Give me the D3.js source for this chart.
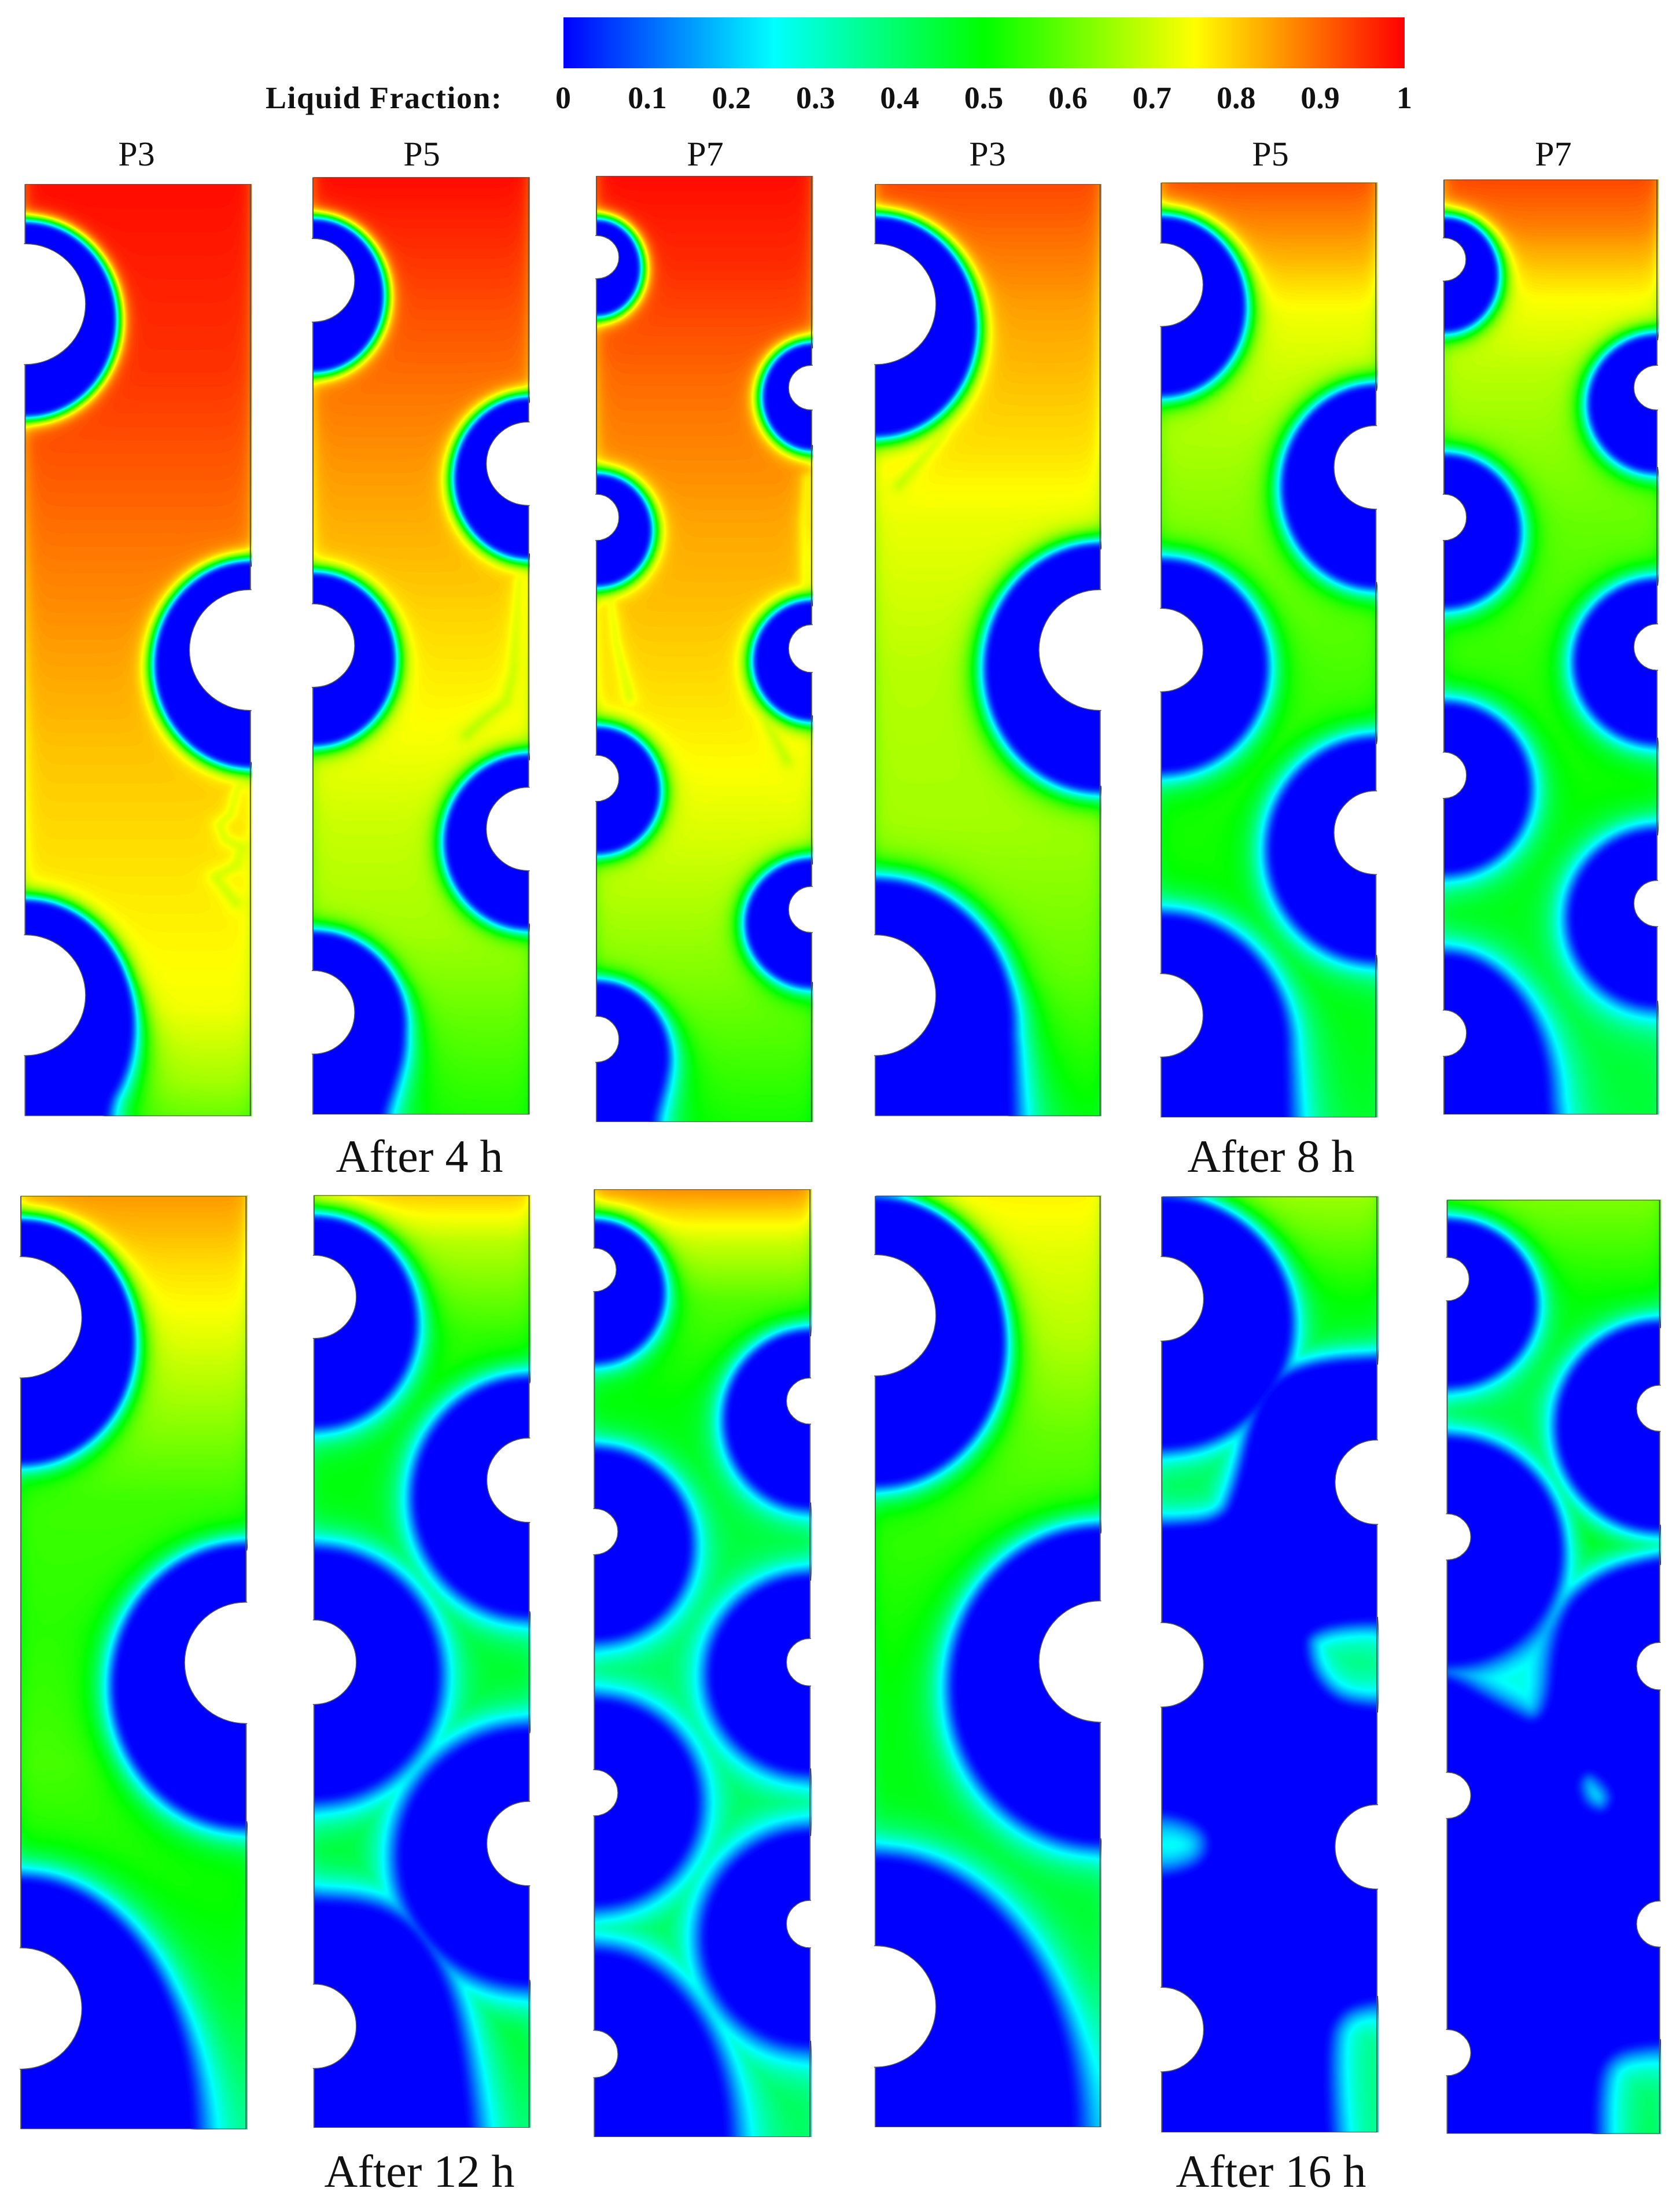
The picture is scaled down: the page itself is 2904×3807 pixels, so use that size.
<!DOCTYPE html>
<html>
<head>
<meta charset="utf-8">
<script src="https://cdnjs.cloudflare.com/ajax/libs/d3/7.8.5/d3.min.js"></script>
<style>
	html, body { margin: 0; background: #fff; }
	text { font-family: "Liberation Serif", serif; fill: #111; text-rendering: geometricPrecision; }
</style>
</head>
<body>
<svg id="chart" width="2904" height="3807"></svg>
<script>
// colour bar
const colorStops = [0, 0.25, 0.5, 0.75, 1]
const colorNames = ["#0000ff", "#00ffff", "#00ff00", "#ffff00", "#ff0000"]
const tickValues = [0, 0.1, 0.2, 0.3, 0.4, 0.5, 0.6, 0.7, 0.8, 0.9, 1]
const barTitle = "Liquid Fraction:"

// panels, in reading order. All geometry below is read off the picture, in
// crop units: one crop per quarter of the figure, see readX / readY
const panelNames = ["P3", "P5", "P7", "P3", "P5", "P7", "P3", "P5", "P7", "P3", "P5", "P7"]
const groupNames = ["After 4 h", "After 8 h", "After 12 h", "After 16 h"]

// [left, right, top, bottom]
const frames = [
	[47, 468, 247, 1497], [585, 988, 238, 1495], [1115, 1517, 236, 1505],
	[68, 487, 247, 1497], [601, 1001, 245, 1499], [1128, 1525, 241, 1495],
	[39, 460, 41, 1456], [587, 989, 40, 1454], [1111, 1514, 31, 1468],
	[68, 487, 41, 1453], [602, 1003, 42, 1461], [1134, 1530, 47, 1463]
]

// heat transfer tubes, [cx, cy, rx, ry]
const tubes = [
	[[47, 408, 113, 81], [468, 872, 114, 81], [47, 1335, 113, 81]],
	[[585, 376, 78, 56], [988, 622, 79, 56], [585, 866, 78, 56], [988, 1112, 79, 56], [585, 1358, 78, 56]],
	[[1115, 345, 42, 29], [1517, 520, 43, 30], [1115, 694, 42, 31], [1517, 870, 43, 32], [1115, 1044, 42, 31], [1517, 1220, 43, 31], [1115, 1394, 42, 31]],
	[[68, 408, 113, 81], [487, 872, 114, 81], [68, 1335, 113, 81]],
	[[601, 382, 78, 56], [1001, 627, 78, 56], [601, 872, 78, 56], [1001, 1117, 78, 56], [601, 1362, 78, 56]],
	[[1128, 348, 41, 29], [1525, 520, 43, 30], [1128, 694, 42, 31], [1525, 868, 43, 31], [1128, 1040, 42, 31], [1525, 1212, 43, 31], [1128, 1386, 42, 31]],
	[[39, 225, 114, 92], [460, 749, 115, 92], [39, 1273, 114, 92]],
	[[587, 194, 79, 63], [989, 472, 79, 64], [587, 748, 79, 64], [989, 1023, 79, 64], [587, 1300, 79, 64]],
	[[1111, 153, 41, 33], [1514, 352, 44, 35], [1111, 550, 44, 35], [1514, 748, 44, 36], [1111, 946, 44, 35], [1514, 1145, 44, 36], [1111, 1342, 44, 36]],
	[[68, 222, 113, 92], [487, 747, 114, 92], [68, 1270, 113, 92]],
	[[602, 197, 78, 64], [1003, 475, 78, 64], [602, 752, 78, 64], [1003, 1028, 78, 64], [602, 1305, 78, 64]],
	[[1134, 167, 41, 33], [1530, 363, 43, 35], [1134, 558, 44, 35], [1530, 754, 43, 36], [1134, 950, 44, 35], [1530, 1145, 43, 35], [1134, 1340, 44, 35]]
]

// still solid PCM around each tube, [cx, cy, rx, ry]
const solidLobes = [
	[[47, 427, 165, 128], [468, 890, 176, 135], [47, 1370, 195, 160]],
	[[585, 395, 127, 100], [988, 640, 136, 105], [585, 883, 147, 112], [988, 1128, 153, 113], [585, 1370, 163, 117]],
	[[1115, 358, 77, 62], [1517, 531, 89, 69], [1115, 710, 97, 72], [1517, 885, 105, 77], [1115, 1059, 111, 81], [1517, 1237, 119, 82], [1115, 1415, 125, 95]],
	[[68, 436, 182, 144], [487, 894, 209, 161], [68, 1370, 245, 185]],
	[[601, 409, 149, 116], [1001, 651, 169, 131], [601, 892, 187, 137], [1001, 1138, 193, 143], [601, 1400, 224, 168]],
	[[1128, 367, 94, 73], [1525, 540, 123, 88], [1128, 711, 132, 97], [1525, 886, 147, 104], [1128, 1056, 150, 108], [1525, 1230, 157, 112], [1128, 1470, 184, 185]],
	[[39, 260, 204, 180], [460, 782, 242, 207], [39, 1456, 313, 374]],
	[[587, 230, 181, 153], [989, 496, 209, 174], [587, 765, 223, 183], [989, 1041, 237, 187]],
	[[1111, 184, 121, 102], [1514, 378, 152, 128], [1111, 568, 171, 138], [1514, 765, 182, 143], [1111, 959, 184, 149], [1514, 1165, 192, 155], [1111, 1468, 239, 276]],
	[[68, 260, 232, 212], [487, 782, 269, 232], [68, 1453, 362, 403]],
	[[602, 232, 232, 184]],
	[[1134, 202, 156, 120], [1530, 389, 185, 151], [1134, 578, 204, 166]]
]

// solid that is not round: the tails under the lowest tube and the merged mass
const solidShapes = [
	[[[47, 1330], [232, 1330], [242, 1370], [238, 1400], [225, 1430], [200, 1470], [190, 1497], [188, 1600], [0, 1600], [0, 1330]]],
	[[[585, 1340], [738, 1340], [748, 1370], [745, 1410], [730, 1445], [712, 1480], [706, 1495], [704, 1600], [500, 1600], [500, 1340]]],
	[[[1115, 1390], [1231, 1390], [1240, 1415], [1235, 1445], [1222, 1475], [1210, 1505], [1206, 1600], [1040, 1600], [1040, 1390]]],
	[[[68, 1300], [292, 1300], [313, 1370], [313, 1450], [312, 1600], [0, 1600], [0, 1300]]],
	[[[601, 1340], [805, 1340], [825, 1400], [826, 1450], [828, 1600], [500, 1600], [500, 1340]]],
	[[[1128, 1410], [1298, 1410], [1312, 1470], [1315, 1500], [1316, 1600], [1040, 1600], [1040, 1410]]],
	[],
	[[[587, 1115], [680, 1120], [740, 1140], [785, 1175], [825, 1240], [850, 1320], [870, 1454], [875, 1600], [500, 1600], [500, 1115]]],
	[], [],
	[[[1100, 293], [1003, 293], [900, 298], [820, 320], [780, 370], [750, 480], [720, 540], [602, 548], [500, 548], [500, 1600], [1100, 1600]]],
	[[[1630, 595], [1530, 595], [1420, 620], [1345, 680], [1325, 860], [1210, 812], [1134, 775], [1040, 766], [1040, 1600], [1630, 1600]]]
]

// melted pockets left inside the solid
const pockets = [
	[], [], [], [], [], [], [], [], [], [],
	[
		[[862, 682], [1100, 676], [1100, 826], [1003, 824], [915, 812], [862, 755]],
		[[500, 966], [602, 966], [678, 986], [702, 1022], [678, 1062], [602, 1080], [500, 1080]],
		[[895, 1330], [925, 1268], [1003, 1250], [1100, 1250], [1100, 1600], [915, 1600]]
	],
	[
		[[1365, 925], [1400, 900], [1455, 945], [1430, 985], [1380, 970]],
		[[1395, 1400], [1425, 1330], [1530, 1316], [1630, 1316], [1630, 1600], [1405, 1600]]
	]
]

// thin cooler streaks left by the melt plumes
const wisps = [
	[[[468, 1035], [440, 1060], [430, 1090], [408, 1105], [420, 1125], [450, 1135], [440, 1160], [400, 1175], [440, 1210]]],
	[[[968, 775], [966, 800], [962, 850], [958, 900], [945, 940], [900, 965], [870, 985]]],
	[[[1505, 640], [1500, 700], [1505, 790]], [[1140, 800], [1150, 860], [1175, 935]], [[1425, 960], [1470, 1020]]],
	[[[110, 650], [135, 630], [190, 585], [230, 540]]],
	[], [], [], [], [], [], [], []
]

// liquid fraction far from the solid, [y, value]
const profiles = [
	[[247, .99], [500, .95], [750, .88], [1000, .81], [1250, .76], [1350, .74], [1450, .66], [1497, .60]],
	[[238, .99], [400, .93], [600, .86], [800, .80], [1000, .74], [1100, .70], [1250, .66], [1400, .58], [1495, .53]],
	[[236, .99], [350, .96], [500, .90], [700, .84], [900, .79], [1030, .75], [1150, .70], [1300, .63], [1505, .52]],
	[[247, .93], [400, .85], [600, .78], [700, .73], [900, .68], [1100, .66], [1300, .60], [1497, .50]],
	[[245, .92], [330, .84], [420, .74], [500, .70], [700, .63], [900, .57], [1100, .52], [1300, .50], [1499, .47]],
	[[241, .93], [300, .88], [400, .75], [500, .68], [700, .60], [900, .55], [1100, .50], [1300, .47], [1495, .45]],
	[[41, .85], [150, .78], [210, .75], [350, .66], [500, .56], [700, .54], [900, .57], [1000, .54], [1200, .48], [1456, .42]],
	[[40, .80], [70, .75], [110, .68], [250, .55], [400, .50], [700, .47], [900, .45], [1100, .47], [1300, .48], [1454, .44]],
	[[31, .86], [70, .78], [110, .70], [200, .58], [350, .50], [500, .46], [700, .42], [900, .42], [1100, .44], [1300, .46], [1468, .42]],
	[[41, .76], [130, .72], [250, .68], [400, .60], [550, .55], [800, .50], [1000, .48], [1200, .45], [1453, .38]],
	[[42, .65], [100, .60], [200, .50], [290, .46], [500, .42], [750, .38], [1020, .30], [1250, .38], [1461, .42]],
	[[47, .62], [100, .58], [200, .50], [350, .44], [560, .50], [640, .40], [700, .28], [900, .34], [1250, .38], [1463, .44]]
]

// thickness of the melting front at the top, low down and at the bottom of a panel
const fronts = [
	[7, 10, 22], [7, 11, 22], [7, 11, 22],
	[8, 18, 30], [10, 20, 30], [9, 20, 30],
	[10, 24, 34], [14, 28, 34], [12, 26, 34],
	[13, 28, 36], [16, 22, 30], [14, 22, 30]
]

const readX = [d3.scaleLinear([0, 1568], [0, 1450]), d3.scaleLinear([0, 1568], [1450, 2904])]
const readY = [d3.scaleLinear([0, 1568], [0, 2020]), d3.scaleLinear([0, 1568], [2020, 3807])]

const color = d3.scaleLinear().domain(colorStops).range(colorNames).clamp(true)
const levelStep = 0.005
const levels = d3.range(levelStep, 1, levelStep)
const cell = 3

const svg = d3.select("#chart")

// signed distances, negative inside
const ellipseDistance = (px, py, e) => {
	const dx = px - e.cx, dy = py - e.cy
	const k0 = Math.hypot(dx / e.rx, dy / e.ry)
	const k1 = Math.hypot(dx / (e.rx * e.rx), dy / (e.ry * e.ry))
	return k1 === 0 ? -Math.min(e.rx, e.ry) : k0 * (k0 - 1) / k1
}
const segmentDistance = (px, py, a, b) => {
	const vx = b[0] - a[0], vy = b[1] - a[1]
	const t = Math.max(0, Math.min(1, ((px - a[0]) * vx + (py - a[1]) * vy) / (vx * vx + vy * vy)))
	return Math.hypot(px - a[0] - t * vx, py - a[1] - t * vy)
}
const lineDistance = (px, py, pts) => {
	let best = Infinity
	for (let i = 1; i < pts.length; i++) best = Math.min(best, segmentDistance(px, py, pts[i - 1], pts[i]))
	return best
}
const shapeDistance = (px, py, pts) => {
	const d = lineDistance(px, py, pts.concat([pts[0]]))
	return d3.polygonContains(pts, [px, py]) ? -d : d
}
// corner cutting, so the read outlines lose their kinks
const rounded = (pts, times) => {
	if (!times) return pts
	const out = []
	pts.forEach((p, i) => {
		const q = pts[(i + 1) % pts.length]
		out.push([p[0] * .75 + q[0] * .25, p[1] * .75 + q[1] * .25])
		out.push([p[0] * .25 + q[0] * .75, p[1] * .25 + q[1] * .75])
	})
	return rounded(out, times - 1)
}
// the front rises softly out of the solid, then levels off
const rise = t => 1 - Math.exp(-t * t / (1 + t))

class Panel {
	constructor(i) {
		this.i = i
		this.sx = readX[i % 6 < 3 ? 0 : 1]
		this.sy = readY[i < 6 ? 0 : 1]
		const [l, r, t, b] = frames[i]
		this.x0 = this.sx(l)
		this.x1 = this.sx(r)
		this.y0 = this.sy(t)
		this.y1 = this.sy(b)
		this.toEllipse = ([cx, cy, rx, ry]) => ({
			cx: this.sx(cx),
			cy: this.sy(cy),
			rx: this.sx(cx + rx) - this.sx(cx),
			ry: this.sy(cy + ry) - this.sy(cy)
		})
		this.toPoints = pts => pts.map(p => [this.sx(p[0]), this.sy(p[1])])
		this.level = d3.scaleLinear()
			.domain(profiles[i].map(p => this.sy(p[0])))
			.range(profiles[i].map(p => p[1]))
			.clamp(true)
		this.front = d3.scaleLinear()
			.domain([this.y0, this.y0 + (this.y1 - this.y0) * .85, this.y1])
			.range(fronts[i])
	}
	field() {
		const lobes = solidLobes[this.i].map(this.toEllipse)
		const shapes = solidShapes[this.i].map(s => rounded(this.toPoints(s), 3))
		const holes = pockets[this.i].map(s => rounded(this.toPoints(s), 3))
		const streaks = wisps[this.i].map(this.toPoints)
		const nx = Math.ceil((this.x1 - this.x0) / cell) + 1
		const ny = Math.ceil((this.y1 - this.y0) / cell) + 1
		const values = new Float64Array(nx * ny)
		for (let row = 0; row < ny; row++) {
			const py = this.y0 + row * cell
			const far = this.level(py)
			const w = this.front(py)
			for (let col = 0; col < nx; col++) {
				const px = this.x0 + col * cell
				let d = Infinity
				for (const e of lobes) d = Math.min(d, ellipseDistance(px, py, e))
				for (const s of shapes) d = Math.min(d, shapeDistance(px, py, s))
				for (const h of holes) d = Math.max(d, -shapeDistance(px, py, h))
				let v = far * rise(Math.max(d, 0) / w)
				for (const s of streaks) {
					v = Math.min(v, far * (1 - Math.exp(-(lineDistance(px, py, s) + 22) / 10)))
				}
				const wall = Math.min(px - this.x0, this.x1 - px)
				v *= 1 - 0.07 * Math.exp(-wall / 9)
				values[row * nx + col] = v
			}
		}
		d3.blur2({ data: values, width: nx, height: ny }, 1)
		return { nx, ny, values }
	}
	draw() {
		const id = "clip" + this.i
		svg.append("clipPath")
			.attr("id", id)
			.append("rect")
			.attr("x", this.x0 - 2)
			.attr("y", this.y0)
			.attr("width", this.x1 - this.x0 + 4)
			.attr("height", this.y1 - this.y0)
		const g = svg.append("g")
			.attr("class", "panel")
			.attr("clip-path", `url(#${id})`)
		g.append("rect")
			.attr("x", this.x0)
			.attr("y", this.y0)
			.attr("width", this.x1 - this.x0)
			.attr("height", this.y1 - this.y0)
			.attr("fill", color(0))
		const { nx, ny, values } = this.field()
		const bands = d3.contours()
			.size([nx, ny])
			.thresholds(levels)(values)
		g.append("g")
			.attr("transform", `translate(${this.x0},${this.y0}) scale(${cell})`)
			.selectAll("path")
			.data(bands.filter(b => b.coordinates.length))
			.enter()
			.append("path")
			.attr("d", d3.geoPath())
			.attr("fill", b => color(b.value + levelStep / 2))
		g.append("rect")
			.attr("x", this.x0)
			.attr("y", this.y0)
			.attr("width", this.x1 - this.x0)
			.attr("height", this.y1 - this.y0)
			.attr("fill", "none")
			.attr("stroke", "#555")
			.attr("stroke-width", 2)
		g.selectAll("ellipse")
			.data(tubes[this.i].map(this.toEllipse))
			.enter()
			.append("ellipse")
			.attr("cx", e => e.cx)
			.attr("cy", e => e.cy)
			.attr("rx", e => e.rx)
			.attr("ry", e => e.ry)
			.attr("fill", "#fff")
			.attr("stroke", "#555")
			.attr("stroke-width", 1.5)
	}
}

// colour bar and its axis
const barScale = d3.scaleLinear().domain([0, 1]).range([974, 2428])
const gradient = svg.append("defs")
	.append("linearGradient")
	.attr("id", "bar")
gradient.selectAll("stop")
	.data(colorStops)
	.enter()
	.append("stop")
	.attr("offset", d => d)
	.attr("stop-color", d => color(d))
svg.append("rect")
	.attr("x", barScale(0))
	.attr("y", 30)
	.attr("width", barScale(1) - barScale(0))
	.attr("height", 88)
	.attr("fill", "url(#bar)")
const axis = svg.append("g")
	.attr("transform", "translate(-1,148)")
	.call(d3.axisBottom(barScale)
		.tickValues(tickValues)
		.tickSize(0)
		.tickPadding(0)
		.tickFormat(d3.format("~g")))
axis.select(".domain").remove()
axis.selectAll("text")
	.attr("font-family", "Liberation Serif")
	.attr("font-size", 54)
	.attr("font-weight", "bold")
	.attr("fill", "#111")
	.attr("dy", "0.72em")
svg.append("text")
	.attr("x", 459)
	.attr("y", 187)
	.attr("font-size", 54)
	.attr("font-weight", "bold")
	.attr("letter-spacing", 1.5)
	.text(barTitle)

const panels = panelNames.map((name, i) => new Panel(i))
panels.forEach(p => p.draw())

// first row only: the names head their columns
const nameColumns = [236, 729, 1219, 1707, 2196, 2685]
svg.selectAll(".name")
	.data(nameColumns)
	.enter()
	.append("text")
	.attr("class", "name")
	.attr("x", d => d)
	.attr("y", 286)
	.attr("text-anchor", "middle")
	.attr("font-size", 60)
	.text((d, i) => panelNames[i])

svg.selectAll(".group")
	.data(groupNames)
	.enter()
	.append("text")
	.attr("class", "group")
	.attr("x", (d, i) => (i % 2 ? 2197 : 725))
	.attr("y", (d, i) => (i < 2 ? 2025 : 3779))
	.attr("text-anchor", "middle")
	.attr("font-size", 80)
	.text(d => d)
</script>
</body>
</html>
